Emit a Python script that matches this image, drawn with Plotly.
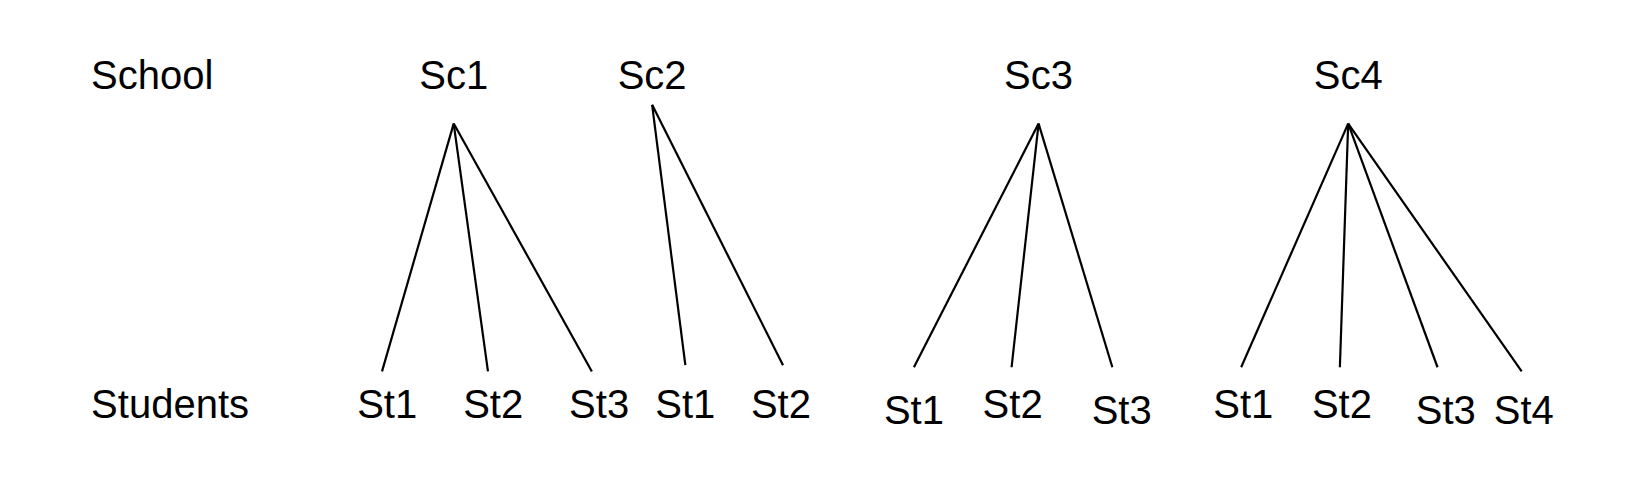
import plotly.graph_objects as go

# level labels
level_names = ["School", "Students"]

# schools
schools   = ["Sc1", "Sc2", "Sc3", "Sc4"]
school_x  = [437, 628, 1000, 1298]
school_ty = [75, 75, 75, 75]
apex_y    = [118, 100, 118, 118]

# students per school
students   = [["St1", "St2", "St3"], ["St1", "St2"], ["St1", "St2", "St3"], ["St1", "St2", "St3", "St4"]]
leaf_x     = [[368, 470, 570], [660, 754], [880, 974, 1071], [1195, 1290, 1384, 1465]]
leaf_y     = [[356, 356, 356], [350, 350], [352, 352, 352], [352, 352, 352, 356]]
label_x    = [[373, 475, 577], [660, 752], [880, 975, 1080], [1197, 1292, 1392, 1467]]
label_y    = [[391, 391, 391], [391, 391], [397, 391, 397], [391, 391, 397, 397]]

FONT = dict(family="Liberation Sans, Arial, sans-serif", size=40, color="black")

fig = go.Figure()

# edges
ex, ey = [], []
for i in range(len(schools)):
    for j in range(len(students[i])):
        ex += [school_x[i], leaf_x[i][j], None]
        ey += [apex_y[i], leaf_y[i][j], None]
fig.add_trace(go.Scatter(x=ex, y=ey, mode="lines", line=dict(color="black", width=2.2),
                         hoverinfo="skip", showlegend=False))

# level names
fig.add_trace(go.Scatter(x=[88, 88], y=[75, 391], mode="text", text=level_names,
                         textposition="middle right", textfont=FONT, showlegend=False))

# school names
fig.add_trace(go.Scatter(x=school_x, y=school_ty, mode="text", text=schools,
                         textposition="middle center", textfont=FONT, showlegend=False))

# student names
sx, sy, st = [], [], []
for i in range(len(schools)):
    sx += label_x[i]
    sy += label_y[i]
    st += students[i]
fig.add_trace(go.Scatter(x=sx, y=sy, mode="text", text=st,
                         textposition="middle center", textfont=FONT, showlegend=False))

fig.update_xaxes(range=[8, 1576], visible=False, fixedrange=True)
fig.update_yaxes(range=[467, 7], visible=False, fixedrange=True)
fig.update_layout(width=1629, height=479, margin=dict(l=0, r=0, t=0, b=0),
                  plot_bgcolor="white", paper_bgcolor="white")

fig.write_html("out.html")
